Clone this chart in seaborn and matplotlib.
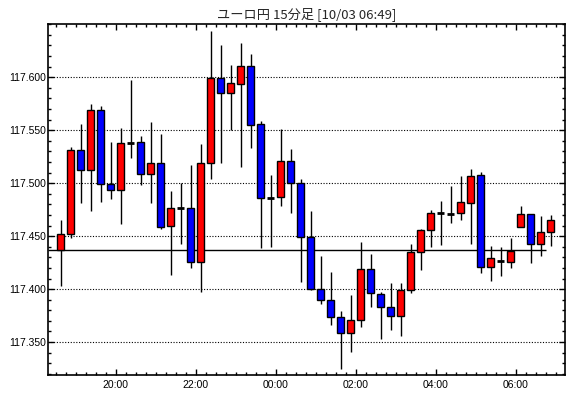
import numpy as np
import pandas as pd
import matplotlib
matplotlib.use("Agg")
import matplotlib.pyplot as plt
import seaborn as sns
from matplotlib.ticker import MultipleLocator, FixedLocator

# ユーロ円 15分足 (10/03 18:30 -> 06:45)
opens = [117.437, 117.452, 117.531, 117.512, 117.569, 117.499, 117.494, 117.538, 117.539, 117.509,
         117.519, 117.460, 117.477, 117.477, 117.426, 117.519, 117.599, 117.585, 117.594, 117.611,
         117.556, 117.486, 117.487, 117.521, 117.500, 117.449, 117.400, 117.390, 117.374, 117.359,
         117.371, 117.419, 117.395, 117.383, 117.375, 117.399, 117.435, 117.456, 117.472, 117.471,
         117.472, 117.481, 117.508, 117.421, 117.429, 117.426, 117.459, 117.471, 117.443, 117.454]
highs = [117.465, 117.534, 117.556, 117.575, 117.573, 117.539, 117.552, 117.597, 117.545, 117.558,
         117.546, 117.493, 117.500, 117.517, 117.537, 117.644, 117.630, 117.612, 117.632, 117.622,
         117.559, 117.508, 117.551, 117.532, 117.504, 117.474, 117.431, 117.416, 117.379, 117.394,
         117.444, 117.433, 117.397, 117.406, 117.406, 117.443, 117.457, 117.475, 117.483, 117.497,
         117.507, 117.513, 117.511, 117.441, 117.440, 117.448, 117.478, 117.471, 117.469, 117.470]
lows = [117.403, 117.448, 117.481, 117.474, 117.482, 117.485, 117.461, 117.524, 117.498, 117.481,
        117.457, 117.413, 117.443, 117.420, 117.397, 117.504, 117.519, 117.550, 117.515, 117.533,
        117.439, 117.440, 117.478, 117.472, 117.407, 117.399, 117.386, 117.366, 117.325, 117.341,
        117.364, 117.383, 117.353, 117.361, 117.356, 117.396, 117.418, 117.440, 117.442, 117.462,
        117.465, 117.443, 117.415, 117.408, 117.412, 117.420, 117.459, 117.425, 117.431, 117.441]
closes = [117.452, 117.531, 117.512, 117.569, 117.499, 117.494, 117.538, 117.538, 117.509, 117.519,
          117.459, 117.477, 117.477, 117.426, 117.519, 117.599, 117.585, 117.595, 117.611, 117.555,
          117.486, 117.486, 117.521, 117.500, 117.449, 117.400, 117.390, 117.374, 117.359, 117.371,
          117.419, 117.396, 117.383, 117.375, 117.399, 117.435, 117.456, 117.472, 117.472, 117.471,
          117.482, 117.507, 117.421, 117.429, 117.427, 117.436, 117.471, 117.443, 117.454, 117.465]
ref_price = 117.437
title = "ユーロ円 15分足 [10/03 06:49]"
tick_hours = [20, 22, 24, 26, 28, 30]
tick_labels = ["20:00", "22:00", "00:00", "02:00", "04:00", "06:00"]
price_ticks = [117.35, 117.40, 117.45, 117.50, 117.55, 117.60]

df = pd.DataFrame({"open": opens, "high": highs, "low": lows, "close": closes})
# heure de début de chaque bougie (18:30 + 15 min), centre au milieu de l'intervalle
df["t"] = 18.5 + 0.25 * np.arange(len(df)) + 0.125
df["up"] = df["close"] > df["open"]
df["doji"] = np.isclose(df["close"], df["open"], atol=0.0015)

sns.set_style("white")
plt.rcParams["font.family"] = ["Liberation Sans", "DejaVu Sans"]

fig = plt.figure(figsize=(5.7, 3.98), dpi=100)
ax = fig.add_axes([0.085, 0.058, 0.906, 0.881])

# mèches
ax.vlines(df["t"], df["low"], df["high"], color="black", linewidth=1.0, zorder=2)

# corps
body = df[~df["doji"]]
colors = np.where(body["up"], "#ff0000", "#0000ff")
ax.bar(body["t"], (body["close"] - body["open"]).abs(),
       bottom=body[["open", "close"]].min(axis=1),
       width=0.17, color=colors, edgecolor="black", linewidth=1.0, zorder=3)

# doji
dj = df[df["doji"]]
ax.hlines(dj["close"], dj["t"] - 0.085, dj["t"] + 0.085, color="black", linewidth=2.0, zorder=3)

xmin, xmax = 18.32, 31.23
ax.hlines(ref_price, xmin, df["t"].iloc[-2] + 0.125, color="black", linewidth=1.0, zorder=2.5)

ax.set_xlim(xmin, xmax)
ax.set_ylim(117.319, 117.650)

ax.xaxis.set_major_locator(FixedLocator(tick_hours))
ax.set_xticklabels(tick_labels)
ax.xaxis.set_minor_locator(MultipleLocator(0.25))
ax.yaxis.set_major_locator(FixedLocator(price_ticks))
ax.yaxis.set_minor_locator(MultipleLocator(0.01))
ax.yaxis.set_major_formatter(matplotlib.ticker.FormatStrFormatter("%.3f"))

ax.tick_params(which="both", direction="in", top=True, right=True, bottom=True, left=True,
               color="black", width=1.0, labelsize=7.5, labelcolor="black")
ax.tick_params(which="major", length=4)
ax.tick_params(which="minor", length=2.2)
ax.tick_params(axis="y", pad=1.5)
ax.tick_params(axis="x", pad=4)

ax.grid(axis="y", which="major", color="black", linestyle=(0, (1, 1.5)), linewidth=0.8)
ax.grid(axis="x", visible=False)
for s in ax.spines.values():
    s.set_color("black")
    s.set_linewidth(1.2)
    s.set_visible(True)

fig.text(0.538, 0.965, title, ha="center", va="center", fontsize=9.5,
         family=["Noto Sans CJK JP", "DejaVu Sans"])

fig.savefig("out.png", dpi=100, facecolor="white")
